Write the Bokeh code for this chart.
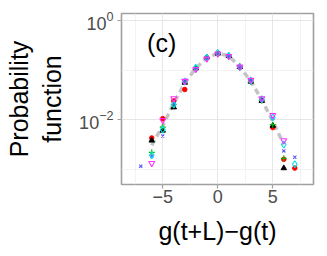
from bokeh.plotting import figure
from bokeh.models import FixedTicker, Range1d, CustomJSTickFormatter
from bokeh.core.properties import value
from bokeh.embed import file_html
from bokeh.resources import INLINE

# ---- data ----
red_x = [-6, -5, -4, -3, -2, -1, 0, 1, 2, 3, 4, 5, 6, 7]
red_y = [0.00427, 0.0105, 0.0240, 0.0407, 0.108, 0.180, 0.221, 0.193, 0.114, 0.0603, 0.0245, 0.00692, 0.00158, 0.00105]

black_x = [-6, -5, -4, -3, -2, -1, 0, 1, 2, 3, 4, 5, 6]
black_y = [0.00380, 0.00603, 0.0178, 0.0562, 0.110, 0.182, 0.218, 0.195, 0.117, 0.0590, 0.0240, 0.00759, 0.00105]

green_x = [-6, -5, -4, -3, -2, -1, 0, 1, 2, 3, 4, 5, 6]
green_y = [0.00219, 0.00708, 0.0200, 0.0575, 0.112, 0.178, 0.219, 0.197, 0.118, 0.0575, 0.0245, 0.00794, 0.00166]

blue_x = [-7, -6, -5, -4, -3, -2, -1, 0, 1, 2, 3, 4, 5, 6, 7]
blue_y = [0.00115, 0.00182, 0.00468, 0.0209, 0.0580, 0.110, 0.176, 0.219, 0.193, 0.117, 0.0610, 0.0251, 0.0107, 0.00234, 0.00174]

cyan_x = [-6, -5, -4, -3, -2, -1, 0, 1, 2, 3, 4, 5, 6, 7]
cyan_y = [0.00191, 0.00631, 0.0204, 0.0590, 0.112, 0.178, 0.222, 0.195, 0.115, 0.0617, 0.0257, 0.0112, 0.00316, 0.00126]

magenta_x = [-6, -5, -4, -3, -2, -1, 0, 1, 2, 3, 4, 5, 6]
magenta_y = [0.00132, 0.00977, 0.0269, 0.0603, 0.105, 0.170, 0.215, 0.191, 0.117, 0.0631, 0.0269, 0.0123, 0.00380]

fit_x = [-6, -5, -4, -3, -2, -1, 0, 1, 2, 3, 4, 5, 6]
fit_y = [0.00302, 0.00759, 0.0214, 0.0550, 0.110, 0.178, 0.219, 0.195, 0.117, 0.0603, 0.0251, 0.00933, 0.00316]

x_ticks = [-5, 0, 5]
x_minor = [-7.5, -2.5, 2.5, 7.5]
y_ticks = [1.0, 0.01]
y_minor = [0.1, 0.001]
panel_label = "(c)"

FONT = "Liberation Sans"

p = figure(width=319, height=248, y_axis_type="log",
           x_range=Range1d(-8.75, 8.7), y_range=Range1d(0.00049, 1.40),
           output_backend="svg", toolbar_location=None,
           min_border_left=121, min_border_right=6, min_border_top=13, min_border_bottom=64)

p.background_fill_color = "white"
p.border_fill_color = "white"
p.outline_line_color = "#a0a0a0"
p.outline_line_width = 1.6

# grids
p.xgrid.ticker = FixedTicker(ticks=x_ticks, minor_ticks=x_minor)
p.ygrid.ticker = FixedTicker(ticks=y_ticks, minor_ticks=y_minor)
for g in (p.xgrid, p.ygrid):
    g.grid_line_color = "#e6e6e6"
    g.grid_line_width = 1
    g.minor_grid_line_color = "#f0f0f0"
    g.minor_grid_line_width = 0.8

# axes
p.xaxis.ticker = FixedTicker(ticks=x_ticks, minor_ticks=x_minor)
p.yaxis.ticker = FixedTicker(ticks=y_ticks, minor_ticks=y_minor)
p.xaxis.formatter = CustomJSTickFormatter(code="return tick < 0 ? '\u2212' + Math.abs(tick) : String(tick);")
for ax in (p.xaxis, p.yaxis):
    ax.axis_line_color = None
    ax.major_tick_line_color = "#a0a0a0"
    ax.major_tick_line_width = 1.2
    ax.major_tick_out = 4
    ax.major_tick_in = 0
    ax.minor_tick_line_color = None
    ax.major_label_text_font = FONT
    ax.major_label_text_font_size = "18px"
    ax.major_label_text_color = "#4d4d4d"
    ax.axis_label_text_font = FONT
    ax.axis_label_text_font_size = "25px"
    ax.axis_label_text_font_style = "normal"
    ax.axis_label_text_color = "black"

p.xaxis.axis_label = "g(t+L)\u2212g(t)"
p.xaxis.major_label_standoff = 1
p.xaxis.axis_label_standoff = 11
p.yaxis.axis_label = "Probability\nfunction"
p.yaxis.axis_label_standoff = 10
p.yaxis.major_label_standoff = 4

# fitted curve
p.line(fit_x, fit_y, line_color="#c4c4c4", line_width=3.5, line_dash="6 4")

# series
p.scatter(red_x, red_y, marker="circle", size=4.5, fill_color="red", line_color="red")
p.scatter(black_x, black_y, marker="triangle", size=5.5, fill_color="black", line_color="black")
p.scatter(green_x, green_y, marker="cross", size=6, line_color="#00c000", line_width=1.1)
p.scatter(blue_x, blue_y, marker="x", size=4.5, line_color="#5a5aff", line_width=1.1)
p.scatter(cyan_x, cyan_y, marker="diamond", size=7, fill_color=None, line_color="#00e0e8", line_width=1.1)
p.scatter(magenta_x, magenta_y, marker="inverted_triangle", size=6, fill_color=None, line_color="#ff30ff", line_width=1.1)

# panel label
p.text(x=[-5.1], y=[0.355], text=[panel_label], text_font=value(FONT), text_font_size="25px",
       text_align="center", text_baseline="middle", text_color="black")

open("out.html", "w").write(file_html(p, INLINE))
